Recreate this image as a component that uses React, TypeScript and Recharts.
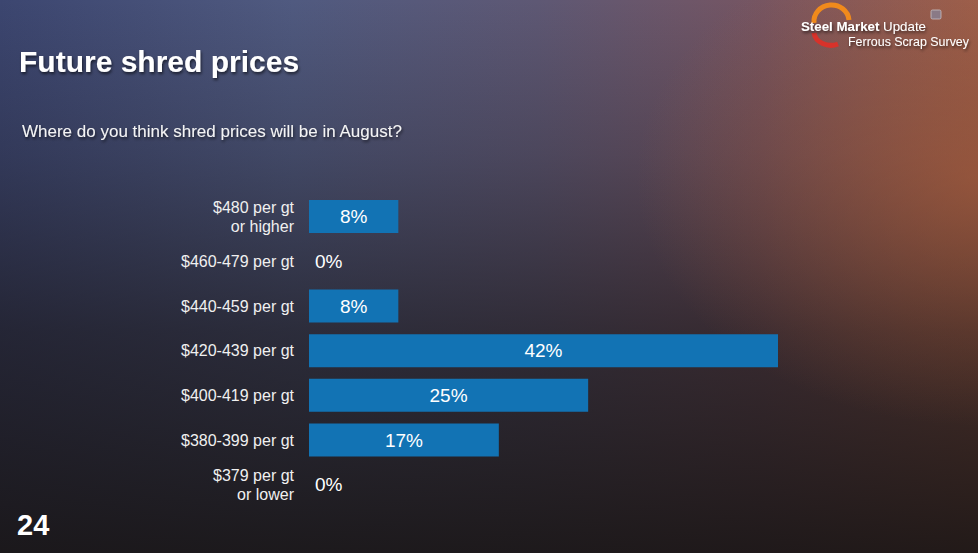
import React from "react";
import { BarChart, Bar, XAxis, YAxis, LabelList } from "recharts";

const categories = [
  "$480 per gt\nor higher",
  "$460-479 per gt",
  "$440-459 per gt",
  "$420-439 per gt",
  "$400-419 per gt",
  "$380-399 per gt",
  "$379 per gt\nor lower",
];
const shares = [8, 0, 8, 42, 25, 17, 0];
const xDomain: [number, number] = [0, 42];

const data = categories.map((c, i) => ({ category: c, value: shares[i] }));

const FONT = "'Liberation Sans', Arial, Helvetica, sans-serif";
const BAR_COLOR = "#1273b4";

const CategoryTick = (props: any) => {
  const { x, y, payload, index } = props;
  const lines = String(payload.value).split("\n");
  const lh = 19;
  const start = -((lines.length - 1) * lh) / 2;
  const v = shares[index];
  return (
    <g>
      <text
        x={x}
        y={y}
        textAnchor="end"
        fill="#f0f0f0"
        fontFamily={FONT}
        fontSize={16}
      >
        {lines.map((l, i) => (
          <tspan key={i} x={x} y={y + start + i * lh} dy="0.36em">
            {l}
          </tspan>
        ))}
      </text>
      {v === 0 ? (
        <text
          x={x + 21}
          y={y}
          dy="0.36em"
          textAnchor="start"
          fill="#ffffff"
          fontFamily={FONT}
          fontSize={19}
        >
          {v}%
        </text>
      ) : null}
    </g>
  );
};

const ValueLabel = (props: any) => {
  const { x, y, width, height, value } = props;
  if (Number(value) === 0) return null;
  return (
    <text
      x={x + width / 2}
      y={y + height / 2}
      dy="0.36em"
      textAnchor="middle"
      fill="#ffffff"
      fontFamily={FONT}
      fontSize={19}
    >
      {value}%
    </text>
  );
};

export default function App() {
  return (
    <div
      style={{
        position: "fixed",
        left: 0,
        top: 0,
        width: 978,
        height: 553,
        overflow: "hidden",
        fontFamily: FONT,
        background:
          "radial-gradient(ellipse 35% 45% at 100% 32%, rgba(175,95,60,0.55) 0%, rgba(175,95,60,0) 100%), linear-gradient(to bottom, rgba(22,19,22,0) 0%, rgba(22,19,22,0.25) 28%, rgba(24,20,22,0.65) 60%, rgba(24,20,20,0.92) 100%), linear-gradient(to right, #3c4670 0%, #505a80 30%, #5e5874 55%, #765562 78%, #9a5e4c 100%)",
      }}
    >
      <svg
        width={978}
        height={553}
        style={{ position: "absolute", left: 0, top: 0 }}
      >
        <defs>
          <filter id="ts" x="-10%" y="-10%" width="120%" height="140%">
            <feDropShadow dx="1" dy="2" stdDeviation="1.5" floodColor="#000" floodOpacity="0.6" />
          </filter>
        </defs>
        <text
          x={19}
          y={72}
          fill="#ffffff"
          fontFamily={FONT}
          fontWeight="bold"
          fontSize={30}
          filter="url(#ts)"
        >
          Future shred prices
        </text>
        <text
          x={22}
          y={137}
          fill="#f4f4f4"
          fontFamily={FONT}
          fontSize={17}
          filter="url(#ts)"
        >
          Where do you think shred prices will be in August?
        </text>
        <text
          x={17}
          y={535}
          fill="#ffffff"
          fontFamily={FONT}
          fontWeight="bold"
          fontSize={29}
        >
          24
        </text>
        {/* logo */}
        <path
          d="M 814 23 A 17 16 0 0 1 849 20"
          stroke="#f08a1c"
          strokeWidth={5}
          fill="none"
        />
        <path
          d="M 814 33 A 17 14 0 0 0 838 44"
          stroke="#d8322a"
          strokeWidth={5}
          fill="none"
        />
        <rect x={931} y={10} width={10} height={9} rx={1.5} fill="#8a7a86" stroke="#c8c0c4" strokeWidth={0.8} />
        <text x={801} y={31} fill="#ffffff" fontFamily={FONT} fontSize={13} textLength={125} lengthAdjust="spacingAndGlyphs" filter="url(#ts)">
          <tspan fontWeight="bold">Steel Market</tspan>
          <tspan> Update</tspan>
        </text>
        <text x={848} y={45.5} fill="#ffffff" fontFamily={FONT} fontSize={13} textLength={121} lengthAdjust="spacingAndGlyphs" filter="url(#ts)">
          Ferrous Scrap Survey
        </text>
      </svg>
      <div style={{ position: "absolute", left: 0, top: 0 }}>
        <BarChart
          width={978}
          height={553}
          data={data}
          layout="vertical"
          margin={{ top: 194, bottom: 46, left: 0, right: 200 }}
        >
          <XAxis type="number" domain={xDomain} hide />
          <YAxis
            type="category"
            dataKey="category"
            width={309}
            axisLine={false}
            tickLine={false}
            tick={<CategoryTick />}
            tickMargin={9}
            interval={0}
          />
          <Bar dataKey="value" fill={BAR_COLOR} barSize={33} isAnimationActive={false}>
            <LabelList dataKey="value" content={<ValueLabel />} />
          </Bar>
        </BarChart>
      </div>
    </div>
  );
}
